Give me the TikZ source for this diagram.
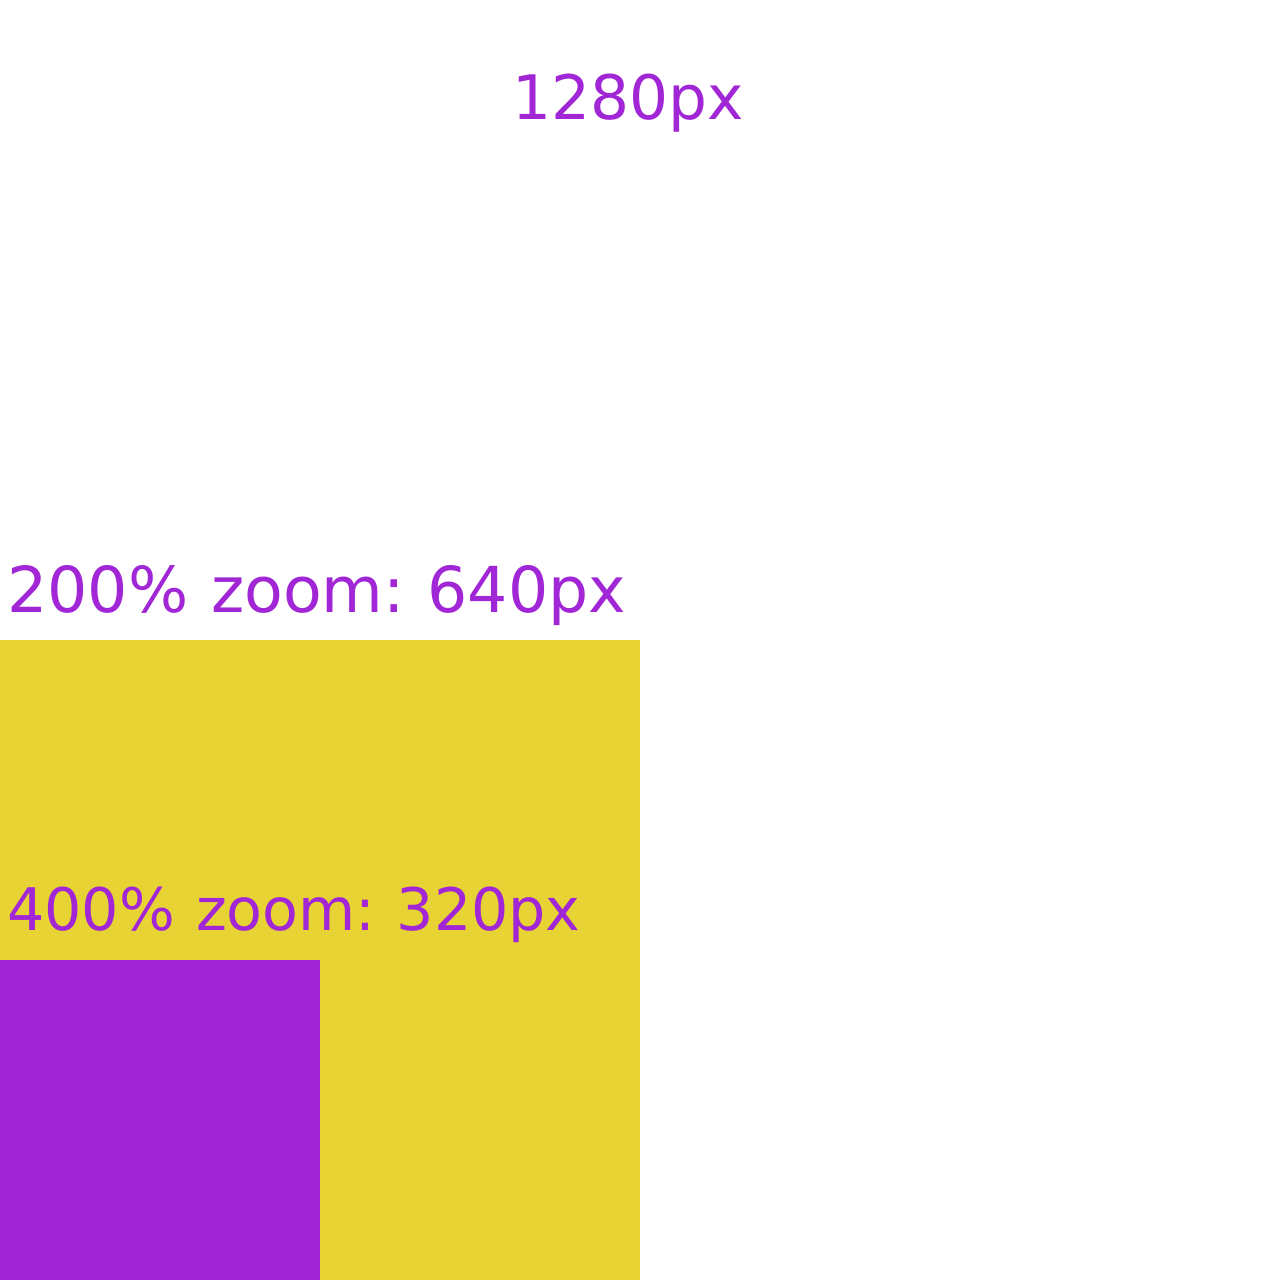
\documentclass[tikz,border=0pt]{standalone}
\usepackage{fontspec}
\setmainfont{DejaVu Sans}
\usepackage{xcolor}
\usetikzlibrary{positioning}
\definecolor{zoompurple}{HTML}{A126D6}
\definecolor{zoomyellow}{HTML}{E8D334}
\frenchspacing
\newcommand{\widegap}{\spaceskip=0.36em\relax}

\begin{document}
\begin{tikzpicture}[x=0.75pt,y=-0.75pt]
  \tikzset{sizelabel/.style={anchor=base west,inner sep=0pt,text=zoompurple}}
  \useasboundingbox (0,0) rectangle (1280,1280);
  \fill[white] (0,0) rectangle (1280,1280);
  \fill[zoomyellow] (0,640) rectangle (640,1280);
  \fill[zoompurple] (0,960) rectangle (320,1280);
  \node[sizelabel,font=\fontsize{46}{54}\selectfont] (full) at (512,120) {1280px};
  \node[sizelabel,font=\fontsize{47.5}{56}\selectfont] (half) at (7,612) {\widegap 200\% zoom: 640px};
  \node[sizelabel,font=\fontsize{44}{52}\selectfont] (quarter) at (7,930) {\widegap 400\% zoom: 320px};
\end{tikzpicture}
\end{document}
